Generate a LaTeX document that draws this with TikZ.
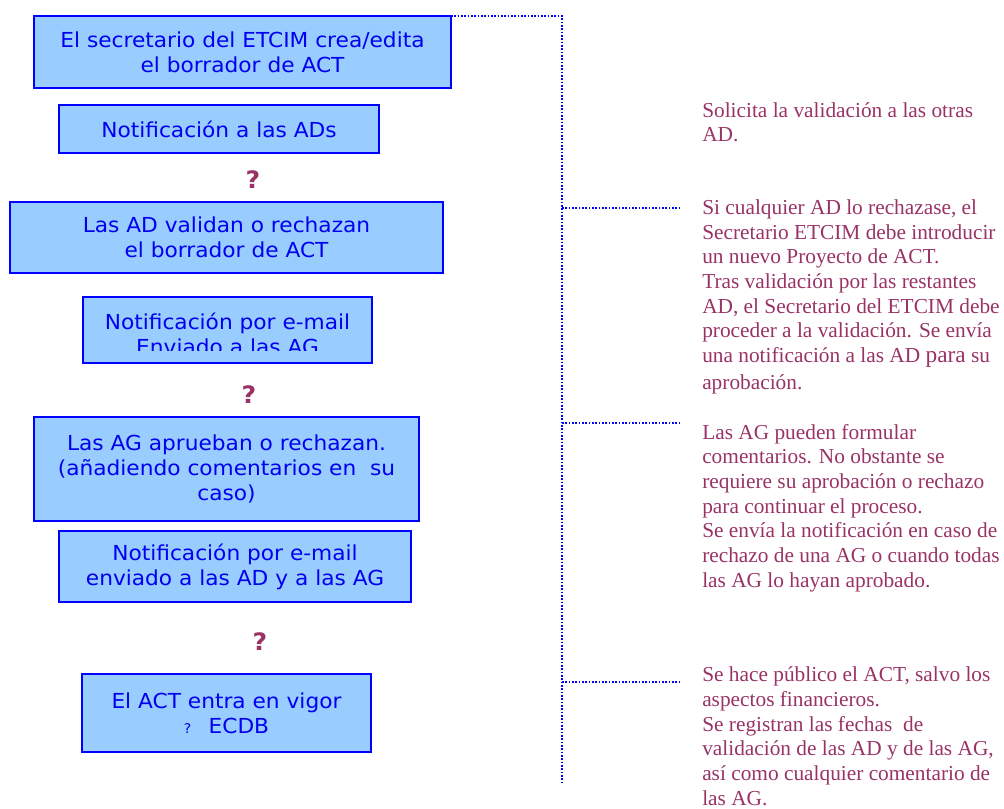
\documentclass[tikz,border=0pt]{standalone}
\usepackage{fontspec}
\setmainfont{Liberation Serif}
\newfontfamily\boxfont[FakeStretch=1.05]{DejaVu Sans}
\usetikzlibrary{calc}
\definecolor{boxfill}{HTML}{99CCFF}
\definecolor{boxline}{HTML}{0000FF}
\definecolor{boxtext}{HTML}{0000F0}
\definecolor{notetext}{HTML}{993366}
\tikzset{
  stage/.style={draw=boxline,line width=1.6pt,fill=boxfill,text=boxtext,align=center,
    inner sep=0pt,outer sep=0pt,font=\boxfont\fontsize{15.5}{18.75}\selectfont},
  query/.style={text=notetext,inner sep=0pt,font=\boxfont\bfseries\fontsize{18}{18}\selectfont},
  note/.style={text=notetext,align=left,anchor=base west,inner sep=0pt,
    font=\fontsize{16}{18.5}\selectfont},
  guide/.style={draw=boxline,line width=1.5pt,dash pattern=on 1.3pt off 1.2pt}
}
\begin{document}
\begin{tikzpicture}[x=0.75pt,y=-0.75pt]
\useasboundingbox (0,0) rectangle (1004,809);
% flow on the left
\node[stage,minimum width=312.75pt,minimum height=54pt](s1)at(242.5,52){El secretario del ETCIM crea/edita\\el borrador de ACT};
\node[stage,minimum width=240pt,minimum height=36pt](s2)at(219,129){Notificación a las ADs};
\node[query](q1)at(253,180){?};
\node[stage,minimum width=324.75pt,minimum height=53.25pt](s3)at(226.5,237.5){Las AD validan o rechazan\\el borrador de ACT};
\node[stage,minimum width=216.75pt,minimum height=49.5pt](s4)at(227.5,330){};
\begin{scope}
  \clip (s4.north west) rectangle ([yshift=9pt]s4.south east);
  \node[stage,draw=none,fill=none](t4)at(227.5,334){Notificación por e-mail\\Enviado a las AG};
\end{scope}
\node[query](q2)at(249,395){?};
\node[stage,minimum width=288.75pt,minimum height=78pt](s5)at(226.5,469){Las AG aprueban o rechazan.\\(añadiendo comentarios en\ \ su\\caso)};
\node[stage,minimum width=264pt,minimum height=53.25pt](s6)at(235,566.5){Notificación por e-mail\\enviado a las AD y a las AG};
\node[query](q3)at(260,642){?};
\node[stage,minimum width=216.75pt,minimum height=58.5pt](s7)at(226.5,713){El ACT entra en vigor\\{\fontsize{10}{10}\selectfont ?}\hspace{13pt}ECDB};
% dotted guide
\coordinate (g0) at (562,16);
\coordinate (g1) at (562,782);
\coordinate (e1) at (680,208);
\coordinate (e2) at (680,423);
\coordinate (e3) at (680,682);
\draw[guide] (s1.north east) -- (g0) -- (g1);
\foreach \e in {e1,e2,e3} \draw[guide] (\e -| g0) -- (\e);
% notes on the right (placed by the baseline of their last line)
\node[note](n1)at(702,142){Solicita la validación a las otras\\AD.};
\node[note](n2)at(702,390){Si cualquier AD lo rechazase, el\\Secretario ETCIM debe introducir\\un nuevo Proyecto de ACT.\\Tras validación por las restantes\\AD, el Secretario del ETCIM debe\\proceder a la validación. Se envía\\una notificación a las AD {\fontsize{17.5}{18.5}\selectfont para} su\\[2pt]aprobación.};
\node[note](n3)at(702,587){Las AG pueden formular\\comentarios. No obstante se\\requiere su aprobación o rechazo\\para continuar el proceso.\\Se envía la notificación en caso de\\rechazo de una AG o cuando todas\\las AG lo hayan aprobado.};
\node[note](n4)at(702,805){Se hace público el ACT, salvo los\\aspectos financieros.\\Se registran las fechas\ \ de\\validación de las AD y de las AG,\\así como cualquier comentario de\\las AG.};
\end{tikzpicture}
\end{document}
